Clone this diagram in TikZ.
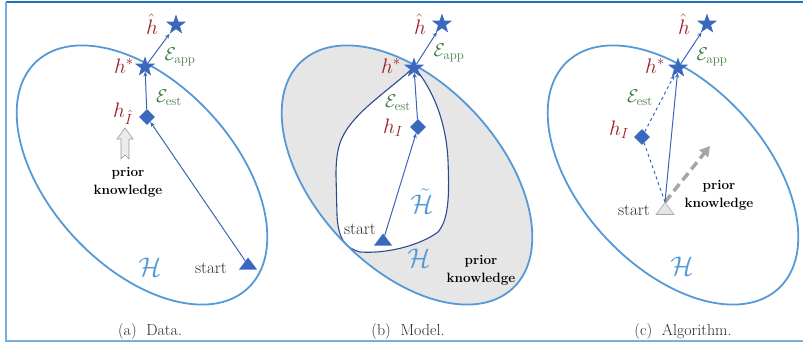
\RequirePackage{fix-cm}
\documentclass[tikz,border=0pt]{standalone}
\usetikzlibrary{shapes.geometric,arrows.meta}
\definecolor{ellblue}{HTML}{5599D6}
\definecolor{nodeblue}{HTML}{3A68BE}
\definecolor{lineblue}{HTML}{3D66B8}
\definecolor{labred}{HTML}{9E1F2A}
\definecolor{labgreen}{HTML}{3F7D3F}
\definecolor{innerblue}{HTML}{2C4A8E}
\definecolor{frametop}{HTML}{1F72BD}
\definecolor{frameside}{HTML}{78AEDB}
\definecolor{regiongray}{HTML}{E6E6E6}
\definecolor{txtdark}{HTML}{2A2A2A}
\tikzset{
  ell/.style={draw=ellblue, line width=1.8pt},
  starnode/.style={star, star points=5, star point ratio=2.5, fill=nodeblue, inner sep=0pt, minimum size=21pt},
  dia/.style={diamond, fill=nodeblue, inner sep=0pt, minimum size=16pt},
  tri/.style={isosceles triangle, isosceles triangle apex angle=80, shape border rotate=90, isosceles triangle stretches, inner sep=0pt, minimum width=18pt, minimum height=12pt, fill=nodeblue},
  conn/.style={draw=lineblue, line width=1pt, -{Stealth[length=5pt,width=4pt]}},
  plain/.style={draw=lineblue, line width=1pt},
  hlab/.style={text=labred, font=\fontsize{21}{23}\selectfont, inner sep=0pt},
  elab/.style={text=labgreen, font=\fontsize{18.5}{20}\selectfont, inner sep=0pt},
  hcal/.style={text=ellblue, font=\fontsize{27}{29}\selectfont, inner sep=0pt},
  stlab/.style={text=txtdark, font=\fontsize{17}{19}\selectfont, inner sep=0pt},
  prior/.style={text=black, font=\fontsize{13.5}{18}\selectfont\bfseries, align=center, inner sep=0pt},
  capt/.style={text=txtdark, font=\fontsize{16}{18}\selectfont, inner sep=0pt},
}
\begin{document}
\begin{tikzpicture}[x=1pt,y=-1pt]
\useasboundingbox (0,0) rectangle (803,343);
% frame
\draw[frametop, line width=1.6pt] (6,2) -- (803,2);
\draw[frameside, line width=1.8pt] (6,2) -- (6,341) -- (803,341);

% ================= (a) Data =================
\draw[ell, rotate around={-47:(142,175)}] (142,175) ellipse [x radius=155, y radius=92];
\node[starnode] (hha) at (176,25) {};
\node[starnode] (hsa) at (145,67) {};
\node[dia] (da) at (147,117) {};
\node[tri] (sa) at (248,265) {};
\draw[conn] (sa) -- (da);
\draw[conn] (da) -- (hsa);
\draw[conn] (hsa) -- (hha);
\node[hlab] (lhha) at (152,24) {$\hat h$};
\node[elab] (leaa) at (180,57) {$\mathcal{E}_{\mathrm{app}}$};
\node[hlab] (lhsa) at (124,66) {$h^*$};
\node[elab] (leea) at (169,98) {$\mathcal{E}_{\mathrm{est}}$};
\node[hlab] (lda) at (123,114) {$h_{\hat I}$};
\draw[gray!80, fill=gray!15, line width=0.6pt] (121,159) -- (121,139) -- (117,139) -- (125,128) -- (133,139) -- (129,139) -- (129,159) -- (125,155) -- cycle;
\node[prior] (pka) at (128,182) {prior\\knowledge};
\node[hcal] (Ha) at (150,267) {$\mathcal{H}$};
\node[stlab] (sta) at (211,268) {start};
\node[capt] (capa) at (150,332) {(a)~~Data.};

% ================= (b) Model =================
\fill[regiongray, rotate around={-47:(407,175)}] (407,175) ellipse [x radius=155, y radius=92];
\filldraw[fill=white, draw=innerblue, line width=1.1pt]
  (414,67) .. controls (395,85) and (365,105) .. (350,125) .. controls (340,138) and (336,150) .. (336,175)
  -- (337,215) .. controls (338,238) and (345,248) .. (360,252)
  .. controls (390,254) and (422,244) .. (438,232)
  .. controls (450,218) and (449,190) .. (448,160)
  .. controls (446,120) and (432,88) .. (414,67) -- cycle;
\draw[ell, rotate around={-47:(407,175)}] (407,175) ellipse [x radius=155, y radius=92];
\node[starnode] (hhb) at (442,24) {};
\node[starnode] (hsb) at (414,68) {};
\node[dia] (db) at (418,127) {};
\node[tri] (sb) at (383,241) {};
\draw[conn] (sb) -- (db);
\draw[conn] (db) -- (hsb);
\draw[conn] (hsb) -- (hhb);
\node[hlab] (lhhb) at (420,24) {$\hat h$};
\node[elab] (leab) at (449,53) {$\mathcal{E}_{\mathrm{app}}$};
\node[hlab] (lhsb) at (391,66) {$h^*$};
\node[elab] (leeb) at (398,103) {$\mathcal{E}_{\mathrm{est}}$};
\node[hlab] (ldb) at (393,128) {$h_{I}$};
\node[hcal] (Htb) at (422,201) {$\tilde{\mathcal{H}}$};
\node[hcal] (Hb) at (419,258) {$\mathcal{H}$};
\node[stlab] (stb) at (360,229) {start};
\node[prior] (pkb) at (481,270) {prior\\knowledge};
\node[capt] (capb) at (408,332) {(b)~~Model.};

% ================= (c) Algorithm =================
\draw[ell, rotate around={-47:(673,175)}] (673,175) ellipse [x radius=155, y radius=92];
\node[starnode] (hhc) at (707,24) {};
\node[starnode] (hsc) at (678,68) {};
\node[dia] (dc) at (642,137) {};
\node[tri, fill=gray!20, draw=gray!70, line width=0.6pt] (sc) at (665,210) {};
\coordinate (pkend) at (710,146);
\draw[gray!70, line width=3.5pt, dash pattern=on 9pt off 5pt, -{Triangle[length=10pt,width=11pt]}] (sc.apex) -- (pkend);
\draw[plain, dashed] (sc.apex) -- (dc);
\draw[conn, dashed] (dc) -- (hsc);
\draw[conn] (sc.apex) -- (hsc);
\draw[conn] (hsc) -- (hhc);
\node[hlab] (lhhc) at (684,24) {$\hat h$};
\node[elab] (leac) at (712,57) {$\mathcal{E}_{\mathrm{app}}$};
\node[hlab] (lhsc) at (655,66) {$h^*$};
\node[elab] (leec) at (640,98) {$\mathcal{E}_{\mathrm{est}}$};
\node[hlab] (ldc) at (619,130) {$h_{I}$};
\node[stlab] (stc) at (634,210) {start};
\node[prior] (pkc) at (719,195) {prior\\knowledge};
\node[hcal] (Hc) at (682,266) {$\mathcal{H}$};
\node[capt] (capc) at (683,332) {(c)~~Algorithm.};
\end{tikzpicture}
\end{document}
